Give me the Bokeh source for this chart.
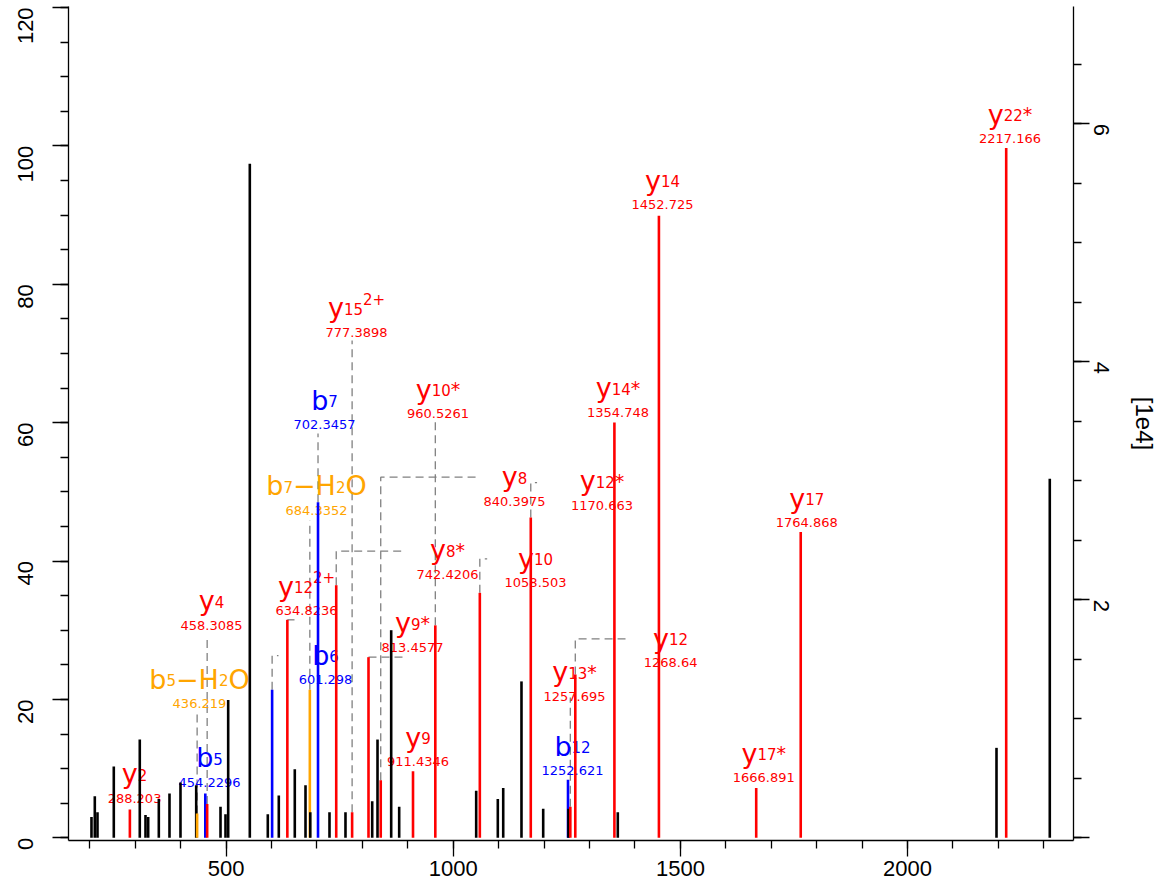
import math
from bokeh.plotting import figure
from bokeh.models import Range1d, LinearAxis, FixedTicker, ColumnDataSource
from bokeh.core.properties import value
from bokeh.embed import file_html
from bokeh.resources import INLINE

# ---------------- data ----------------
# unannotated peaks (m/z, relative intensity %)
PEAK_MZ = [203.7, 211.0, 216.9, 252.8, 310.0, 322.6, 328.5, 351.9, 375.4, 399.6,
           434.2, 487.7, 498.7, 504.6, 552.2, 591.8, 616.0, 651.2, 674.8, 685.3,
           727.6, 762.8, 821.6, 833.3, 863.4, 881.0, 1050.5, 1098.1, 1110.0, 1150.2,
           1198.0, 1253.6, 1362.2, 2195.8, 2313.1]
PEAK_INT = [3.0, 6.0, 3.7, 10.3, 14.2, 3.3, 3.0, 5.6, 6.4, 8.0,
            7.6, 4.5, 3.4, 19.9, 97.4, 3.4, 6.1, 9.9, 7.6, 3.7,
            3.7, 3.7, 5.3, 14.2, 30.0, 4.5, 6.8, 5.6, 7.2, 22.6,
            4.2, 4.2, 3.7, 13.0, 51.9]

# annotated fragment ions
ANN_ION = ["y", "b", "b", "y", "b", "y", "b", "b", "y", "y", "y", "y",
           "y", "y", "y", "y", "b", "y", "y", "y", "y", "y", "y", "y"]
ANN_NUM = [2, 5, 5, 4, 6, 12, 7, 7, 8, 15, 9, 8,
           9, 10, 10, 12, 12, 13, 12, 14, 14, 17, 17, 22]
ANN_LOSS = ["", "H2O", "", "", "", "", "H2O", "", "", "", "", "",
            "", "", "", "", "", "", "", "", "", "", "", ""]
ANN_TAG = ["", "", "", "", "", "2+", "", "", "*", "2+", "*", "",
           "", "*", "", "*", "", "*", "", "*", "", "*", "", "*"]
ANN_MZ = [288.203, 436.219, 454.2296, 458.3085, 601.298, 634.8236, 684.3352, 702.3457,
          742.4206, 777.3898, 813.4577, 840.3975, 911.4346, 960.5261, 1058.503, 1170.663,
          1252.621, 1257.695, 1268.64, 1354.748, 1452.725, 1666.891, 1764.868, 2217.166]
ANN_INT = [4.1, 3.5, 6.4, 4.9, 21.4, 31.5, 21.4, 48.5,
           36.5, 3.7, 26.1, 8.3, 9.6, 30.7, 35.4, 46.3,
           8.4, 4.5, 23.6, 60.0, 89.9, 7.2, 44.2, 99.7]

X_MAJOR = [500, 1000, 1500, 2000]
X_MINOR = list(range(200, 2301, 100))
Y_MAJOR = [0, 20, 40, 60, 80, 100, 120]
Y_MINOR = list(range(0, 121, 5))
Y2_MAJOR = [0, 2, 4, 6]
Y2_MINOR = [0.5 * i for i in range(15)]
RIGHT_SCALE = 0.05815   # 1e4 counts per percent
RIGHT_TITLE = "[1e4]"

# ---------------- layout (label placement, data units) ----------------
LABEL_X = [298.4, 441.4, 463.5, 467.9, 718.8, 677.0, 699.0, 716.6,
           987.3, 787.0, 910.3, 1134.9, 922.4, 966.4, 1181.2, 1327.4,
           1262.5, 1266.9, 1478.3, 1362.6, 1460.7, 1683.5, 1778.1, 2225.5]
LABEL_Y = [4.96, 18.68, 7.27, 29.96, 22.15, 32.12, 46.58, 59.0,
           37.33, 72.3, 26.78, 47.88, 10.30, 60.59, 36.17, 47.30,
           9.00, 19.70, 24.61, 60.74, 90.79, 7.99, 44.84, 100.33]
LINK_Y = [None, 17.96, None, 29.09, 26.34, None, 45.85, 58.42,
          41.42, 71.87, None, 52.11, None, 60.09, 40.32, 51.34,
          None, 20.27, 28.76, None, None, None, None, None]
LINK_X = [None, None, None, None, 615.3, 650.6, None, None,
          887.6, None, 898.6, 1056.2, None, None, 1074.7, 1184.5,
          None, None, 1379.2, None, None, None, None, None]

RED, BLUE, ORANGE, GRAY = "#ff0000", "#0000ff", "#ffa500", "#808080"

W, H = 1161, 886
BL, BR, BT, BB = 68, 88, 6, 46
X0, X1 = 153.1, 2365.3
PXY = 6.92
Y0 = -0.39
Y1 = Y0 + (H - BT - BB) / PXY

p = figure(width=W, height=H, x_range=Range1d(X0, X1), y_range=Range1d(Y0, Y1),
           output_backend="svg", toolbar_location=None,
           min_border_left=BL, min_border_right=BR, min_border_top=BT, min_border_bottom=BB)
p.xgrid.visible = False
p.ygrid.visible = False
p.outline_line_color = None
p.background_fill_color = "white"
p.border_fill_color = "white"

p.extra_y_ranges = {"abs": Range1d(Y0 * RIGHT_SCALE, Y1 * RIGHT_SCALE)}
raxis = LinearAxis(y_range_name="abs")
p.add_layout(raxis, "right")

xax = p.xaxis[0]
yax = p.yaxis[0]
xax.ticker = FixedTicker(ticks=X_MAJOR, minor_ticks=X_MINOR)
yax.ticker = FixedTicker(ticks=Y_MAJOR, minor_ticks=Y_MINOR)
raxis.ticker = FixedTicker(ticks=Y2_MAJOR, minor_ticks=Y2_MINOR)

for ax in [xax, yax, raxis]:
    ax.major_tick_out = 16
    ax.major_tick_in = 0
    ax.minor_tick_out = 8
    ax.minor_tick_in = 0
    ax.axis_line_width = 1.3
    ax.major_tick_line_width = 1.3
    ax.minor_tick_line_width = 1.3
    ax.axis_line_color = "black"
    ax.major_tick_line_color = "black"
    ax.minor_tick_line_color = "black"
    ax.major_label_text_font = "Liberation Sans"
    ax.major_label_text_font_size = "22px"
    ax.major_label_text_color = "black"

xax.major_label_standoff = 4
yax.major_label_standoff = 27
yax.major_label_orientation = math.pi / 2
raxis.major_label_standoff = 12
raxis.major_label_orientation = -math.pi / 2
raxis.major_label_overrides = {0: ""}
raxis.axis_label = RIGHT_TITLE
raxis.axis_label_text_font = "Liberation Sans"
raxis.axis_label_text_font_size = "24px"
raxis.axis_label_text_font_style = "normal"
raxis.axis_label_text_color = "black"
raxis.axis_label_standoff = 11

# ---------------- connectors ----------------
cxs, cys = [], []
for i in range(len(ANN_MZ)):
    if LINK_Y[i] is None and LINK_X[i] is None:
        continue
    ye = LINK_Y[i] if LINK_Y[i] is not None else ANN_INT[i]
    xe = LINK_X[i] if LINK_X[i] is not None else ANN_MZ[i]
    cxs.append([ANN_MZ[i], ANN_MZ[i], xe])
    cys.append([ANN_INT[i], ye, ye])
p.multi_line(xs=cxs, ys=cys, line_color=GRAY, line_width=1.3, line_dash="8 5")

# ---------------- annotation labels ----------------
CW = {'y': 0.592, 'b': 0.635, '\u2212': 0.838, 'H': 0.752, 'O': 0.787,
      '*': 0.5, '+': 0.838, '.': 0.318}
for d in "0123456789":
    CW[d] = 0.636


def tw(s, size):
    return sum(CW.get(c, 0.6) for c in s) * size


MAIN, SUB, MZF, STAR = 27, 15, 13, 19
LIFT = 5          # px: m/z line lift above its anchor
NAME_GAP = 24.5   # px: ion name baseline above m/z baseline
rows = dict(x=[], y=[], text=[], xo=[], fs=[], color=[])


def add(x, y, t, xo, fs, c):
    rows["x"].append(x)
    rows["y"].append(y)
    rows["text"].append(t)
    rows["xo"].append(xo)
    rows["fs"].append("%dpx" % fs)
    rows["color"].append(c)


for i in range(len(ANN_MZ)):
    c = ORANGE if ANN_LOSS[i] else (RED if ANN_ION[i] == "y" else BLUE)
    mzt = "{:.7g}".format(ANN_MZ[i])
    add(LABEL_X[i], LABEL_Y[i] + LIFT / PXY, mzt, -tw(mzt, MZF) / 2, MZF, c)
    pieces = [(ANN_ION[i], MAIN, 0), (str(ANN_NUM[i]), SUB, -1)]
    if ANN_LOSS[i] == "H2O":
        pieces += [("\u2212H", MAIN, 0), ("2", SUB, -1), ("O", MAIN, 0)]
    if ANN_TAG[i] == "*":
        pieces.append(("*", STAR, 0))
    elif ANN_TAG[i]:
        pieces.append((ANN_TAG[i], SUB, 9))
    total = sum(tw(t, s) for t, s, _ in pieces)
    cur = -total / 2
    base = LABEL_Y[i] + (LIFT + NAME_GAP) / PXY
    for t, s, dy in pieces:
        add(LABEL_X[i], base + dy / PXY, t, cur, s, c)
        cur += tw(t, s)

src = ColumnDataSource(rows)
p.text(x="x", y="y", text="text", x_offset="xo", text_font_size="fs",
       text_color="color", text_font=value("DejaVu Sans"),
       text_align="left", text_baseline="alphabetic", source=src)

# ---------------- peaks ----------------
allp = [(m, v, "black") for m, v in zip(PEAK_MZ, PEAK_INT)]
for i in range(len(ANN_MZ)):
    c = ORANGE if ANN_LOSS[i] else (RED if ANN_ION[i] == "y" else BLUE)
    allp.append((ANN_MZ[i], ANN_INT[i], c))
allp.sort(key=lambda t: t[0])
psrc = ColumnDataSource(dict(x=[a[0] for a in allp], y1=[a[1] for a in allp],
                             y0=[0] * len(allp), color=[a[2] for a in allp]))
p.segment(x0="x", y0="y0", x1="x", y1="y1", line_color="color", line_width=2.6,
          source=psrc)

open("out.html", "w").write(file_html(p, INLINE))
